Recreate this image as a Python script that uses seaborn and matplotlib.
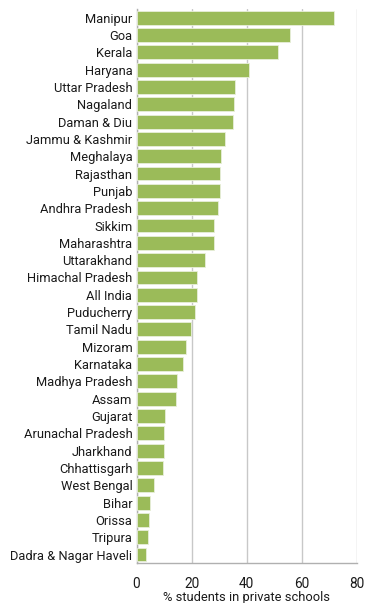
import matplotlib
matplotlib.use("Agg")
import matplotlib.pyplot as plt
import seaborn as sns
import pandas as pd
import numpy as np

states = [
    "Manipur", "Goa", "Kerala", "Haryana", "Uttar Pradesh", "Nagaland",
    "Daman & Diu", "Jammu & Kashmir", "Meghalaya", "Rajasthan", "Punjab",
    "Andhra Pradesh", "Sikkim", "Maharashtra", "Uttarakhand",
    "Himachal Pradesh", "All India", "Puducherry", "Tamil Nadu", "Mizoram",
    "Karnataka", "Madhya Pradesh", "Assam", "Gujarat", "Arunachal Pradesh",
    "Jharkhand", "Chhattisgarh", "West Bengal", "Bihar", "Orissa", "Tripura",
    "Dadra & Nagar Haveli",
]
private_pct = [
    71.5, 55.8, 51.5, 40.9, 35.8, 35.4,
    35.0, 32.1, 30.7, 30.4, 30.3,
    29.4, 28.3, 28.2, 24.8,
    22.0, 21.9, 21.2, 19.7, 17.9,
    16.8, 14.8, 14.4, 10.2, 10.1,
    10.0, 9.5, 6.5, 5.0, 4.5, 4.3,
    3.5,
]
x_ticks = [0, 20, 40, 60, 80]

df = pd.DataFrame({"state": states, "pct": private_pct})

sns.set_style("white")
plt.rcParams["font.family"] = ["Roboto", "DejaVu Sans"]

fig = plt.figure(figsize=(3.65, 6.03), dpi=100)
ax = fig.add_axes([0.374, 0.066, 0.604, 0.919])

sns.barplot(data=df, x="pct", y="state", orient="h", color="#9BBB59",
            saturation=1, width=0.8, edgecolor="#e8efda", linewidth=0.6,
            ax=ax, zorder=3)

ax.set_xlim(0, 80)
ax.set_xticks(x_ticks)
ax.set_ylim(len(states) - 0.5, -0.5)
ax.grid(axis="x", color="#c8c8c8", linewidth=1.0, zorder=0)
ax.set_axisbelow(True)

for side in ("top", "right"):
    ax.spines[side].set_visible(False)
for side in ("left", "bottom"):
    ax.spines[side].set_color("#b0b0b0")
    ax.spines[side].set_linewidth(1.0)

# tick marks between categories on the value axis side
ax.set_yticks(np.arange(-0.5, len(states)), minor=True)
ax.tick_params(axis="y", which="major", length=0, pad=3, labelsize=9.3,
               labelcolor="#1a1a1a")
ax.tick_params(axis="y", which="minor", length=3, color="#b0b0b0", width=0.8)
ax.tick_params(axis="x", which="major", length=4, color="#b0b0b0", width=0.8,
               labelsize=9.8, labelcolor="#1a1a1a", pad=6)

ax.set_ylabel("")
ax.set_xlabel("% students in private schools", fontsize=9.3, color="#1a1a1a",
              labelpad=0)

fig.savefig("out.png", dpi=100)
